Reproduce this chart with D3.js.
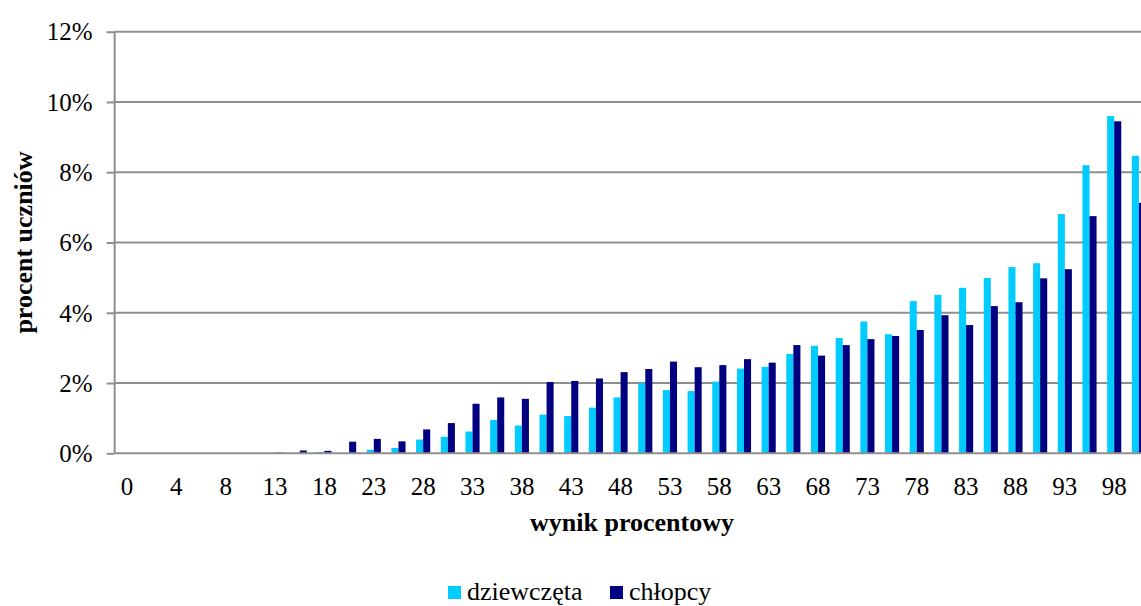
<!DOCTYPE html>
<html>
<head>
<meta charset="utf-8">
<script src="https://cdn.jsdelivr.net/npm/d3@7"></script>
<style>
  html, body { margin: 0; padding: 0; background: #fff; overflow: hidden; }
  svg { display: block; }
  text { font-family: "Liberation Serif", "Times New Roman", serif; fill: #000; }
</style>
</head>
<body>
<svg id="chart" width="1141" height="606"></svg>
<script>
// ---- data ----
const categories = ["0","2","4","6","8","10","13","15","18","20","23","25","28","30","33","35","38","40","43","45","48","50","53","55","58","60","63","65","68","70","73","75","78","80","83","85","88","90","93","95","98","100"];
const shownLabels = ["0","4","8","13","18","23","28","33","38","43","48","53","58","63","68","73","78","83","88","93","98"];
const seriesNames = ["dziewczęta", "chłopcy"];
const girls = [0,0,0,0,0,0,0,0,0.04,0,0.10,0.15,0.39,0.47,0.62,0.95,0.79,1.10,1.06,1.30,1.59,2.00,1.80,1.77,2.04,2.41,2.46,2.83,3.06,3.28,3.75,3.39,4.33,4.51,4.71,4.99,5.30,5.41,6.81,8.20,9.60,8.47];
const boys  = [0,0,0,0,0,0,0.02,0.08,0.07,0.33,0.41,0.34,0.68,0.86,1.41,1.59,1.55,2.03,2.06,2.13,2.31,2.40,2.61,2.45,2.51,2.68,2.58,3.08,2.78,3.08,3.25,3.34,3.51,3.93,3.65,4.19,4.30,4.98,5.24,6.75,9.45,7.13];
const yTicks = [0, 2, 4, 6, 8, 10, 12];
const colors = ["#00CCFF", "#000080"];

// ---- layout ----
const svg = d3.select("#chart");
const plotLeft = 114.66, band = 24.68;
const plotRight = plotLeft + band * categories.length;
const plotTop = 31.7, plotBottom = 453.3;

const x = d3.scaleBand().domain(categories).range([plotLeft, plotRight]).paddingInner(0).paddingOuter(0);
const xs = d3.scaleBand().domain(seriesNames).range([0, x.bandwidth()]).paddingInner(0).paddingOuter(0.75);
const y = d3.scaleLinear().domain([0, 12]).range([plotBottom, plotTop]);

const gridColor = "#8f8f8f";

// gridlines
svg.append("g").selectAll("line").data(yTicks.filter(d => d > 0)).join("line")
  .attr("x1", plotLeft).attr("x2", 1141)
  .attr("y1", d => y(d)).attr("y2", d => y(d))
  .attr("stroke", gridColor).attr("stroke-width", 2);

// bars
const rows = categories.map((c, i) => ({cat: c, vals: [girls[i], boys[i]]}));
const groups = svg.append("g").selectAll("g").data(rows).join("g")
  .attr("transform", d => `translate(${x(d.cat)},0)`);
groups.selectAll("rect").data(d => d.vals.map((v, k) => ({name: seriesNames[k], v, k}))).join("rect")
  .attr("x", d => xs(d.name))
  .attr("width", xs.bandwidth())
  .attr("y", d => y(d.v))
  .attr("height", d => y(0) - y(d.v))
  .attr("fill", d => colors[d.k]);

// y axis
const yAxis = d3.axisLeft(y).tickValues(yTicks).tickFormat(d => d + "%").tickSize(8).tickPadding(14);
const gy = svg.append("g").attr("transform", `translate(${plotLeft},0)`).call(yAxis);
gy.select(".domain").attr("stroke", gridColor).attr("stroke-width", 2).attr("d", `M0,${plotTop}V${plotBottom}`);
gy.selectAll(".tick line").attr("stroke", gridColor).attr("stroke-width", 2);
gy.selectAll(".tick text").style("font-size", "25px").attr("font-family", "Liberation Serif").attr("dy", "0.33em");

// x axis
const evenCats = categories.filter((c, i) => i % 2 === 0);
const xAxis = d3.axisBottom(x).tickValues(evenCats)
  .tickFormat((d) => shownLabels[evenCats.indexOf(d)]).tickSize(0).tickPadding(24);
const gx = svg.append("g").attr("transform", `translate(0,${plotBottom})`).call(xAxis);
gx.select(".domain").attr("stroke", gridColor).attr("stroke-width", 2).attr("d", `M${plotLeft},0H1141`);
gx.selectAll(".tick text").style("font-size", "25px").attr("font-family", "Liberation Serif");

// axis titles
svg.append("text").attr("x", 632).attr("y", 531).attr("text-anchor", "middle")
  .style("font-size", "26px").style("font-weight", "bold").text("wynik procentowy");
svg.append("text").attr("transform", `translate(32,${(plotTop + plotBottom) / 2}) rotate(-90)`)
  .attr("text-anchor", "middle").style("font-size", "26px").style("font-weight", "bold")
  .text("procent uczniów");

// legend
const legendItems = [{name: seriesNames[0], color: colors[0], x: 448, tx: 467},
                     {name: seriesNames[1], color: colors[1], x: 610, tx: 629}];
const lg = svg.append("g").selectAll("g").data(legendItems).join("g");
lg.append("rect").attr("x", d => d.x).attr("y", 586).attr("width", 13).attr("height", 13).attr("fill", d => d.color);
lg.append("text").attr("x", d => d.tx).attr("y", 600).style("font-size", "26px").text(d => d.name);
</script>
</body>
</html>
